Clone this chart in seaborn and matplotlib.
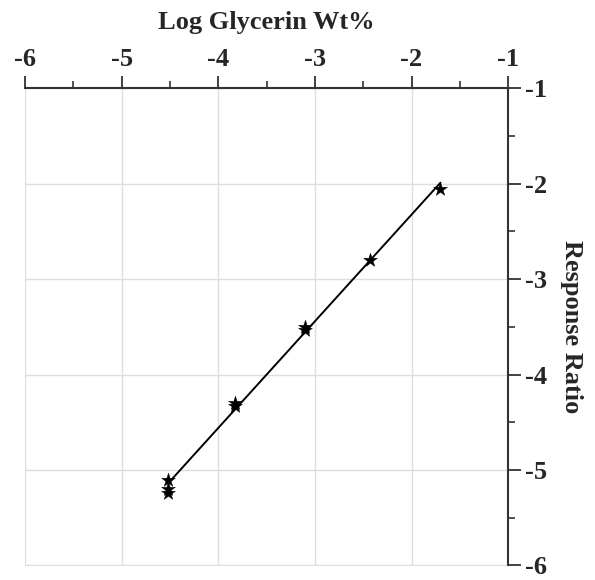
import numpy as np
import pandas as pd
import matplotlib
matplotlib.use("Agg")
import matplotlib.pyplot as plt
import seaborn as sns
from matplotlib.ticker import MultipleLocator

# Data
log_glycerin = [-4.52, -4.52, -4.52, -3.83, -3.83, -3.10, -3.10, -2.43, -1.70]
response_ratio = [-5.10, -5.20, -5.245, -4.30, -4.33, -3.50, -3.53, -2.80, -2.06]
x_ticks = [-6, -5, -4, -3, -2, -1]
y_ticks = [-6, -5, -4, -3, -2, -1]

df = pd.DataFrame({"x": log_glycerin, "y": response_ratio})

sns.set_style("white")
plt.rcParams["font.family"] = ["Liberation Serif", "DejaVu Serif"]
plt.rcParams["font.weight"] = "bold"

fig = plt.figure(figsize=(5.95, 5.8), dpi=100)
ax = fig.add_axes([0.042, 0.025, 0.812, 0.823])

sns.regplot(data=df, x="x", y="y", ax=ax, ci=None, scatter=False,
            line_kws=dict(color="black", lw=1.4))
sns.scatterplot(data=df, x="x", y="y", ax=ax, marker="*", s=110,
                color="black", edgecolor="black", linewidth=0.3, zorder=5)

ax.set_xlim(-6, -1)
ax.set_ylim(-6, -1)
ax.set_xticks(x_ticks)
ax.set_yticks(y_ticks)
ax.set_xticklabels([str(t) for t in x_ticks])
ax.set_yticklabels([str(t) for t in y_ticks])
ax.xaxis.set_minor_locator(MultipleLocator(0.5))
ax.yaxis.set_minor_locator(MultipleLocator(0.5))

ax.xaxis.tick_top()
ax.xaxis.set_label_position("top")
ax.yaxis.tick_right()
ax.yaxis.set_label_position("right")

for s in ["left", "bottom"]:
    ax.spines[s].set_visible(False)
for s in ["top", "right"]:
    ax.spines[s].set_visible(True)
    ax.spines[s].set_color("#333333")
    ax.spines[s].set_linewidth(1.5)

ax.tick_params(axis="both", which="major", direction="out", length=9,
               width=1.3, color="#333333", labelsize=19, pad=3)
ax.tick_params(axis="both", which="minor", direction="out", length=5,
               width=1.2, color="#333333")
ax.tick_params(axis="x", which="both", top=True, bottom=False)
ax.tick_params(axis="y", which="both", right=True, left=False)

ax.grid(True, which="major", color="#dddddd", lw=1)
ax.set_axisbelow(True)

ax.set_xlabel("Log Glycerin Wt%", fontsize=19, fontweight="bold", labelpad=14)
ax.set_ylabel("Response Ratio", fontsize=19, fontweight="bold", rotation=-90,
              labelpad=26)

fig.savefig("out.png", dpi=100)
